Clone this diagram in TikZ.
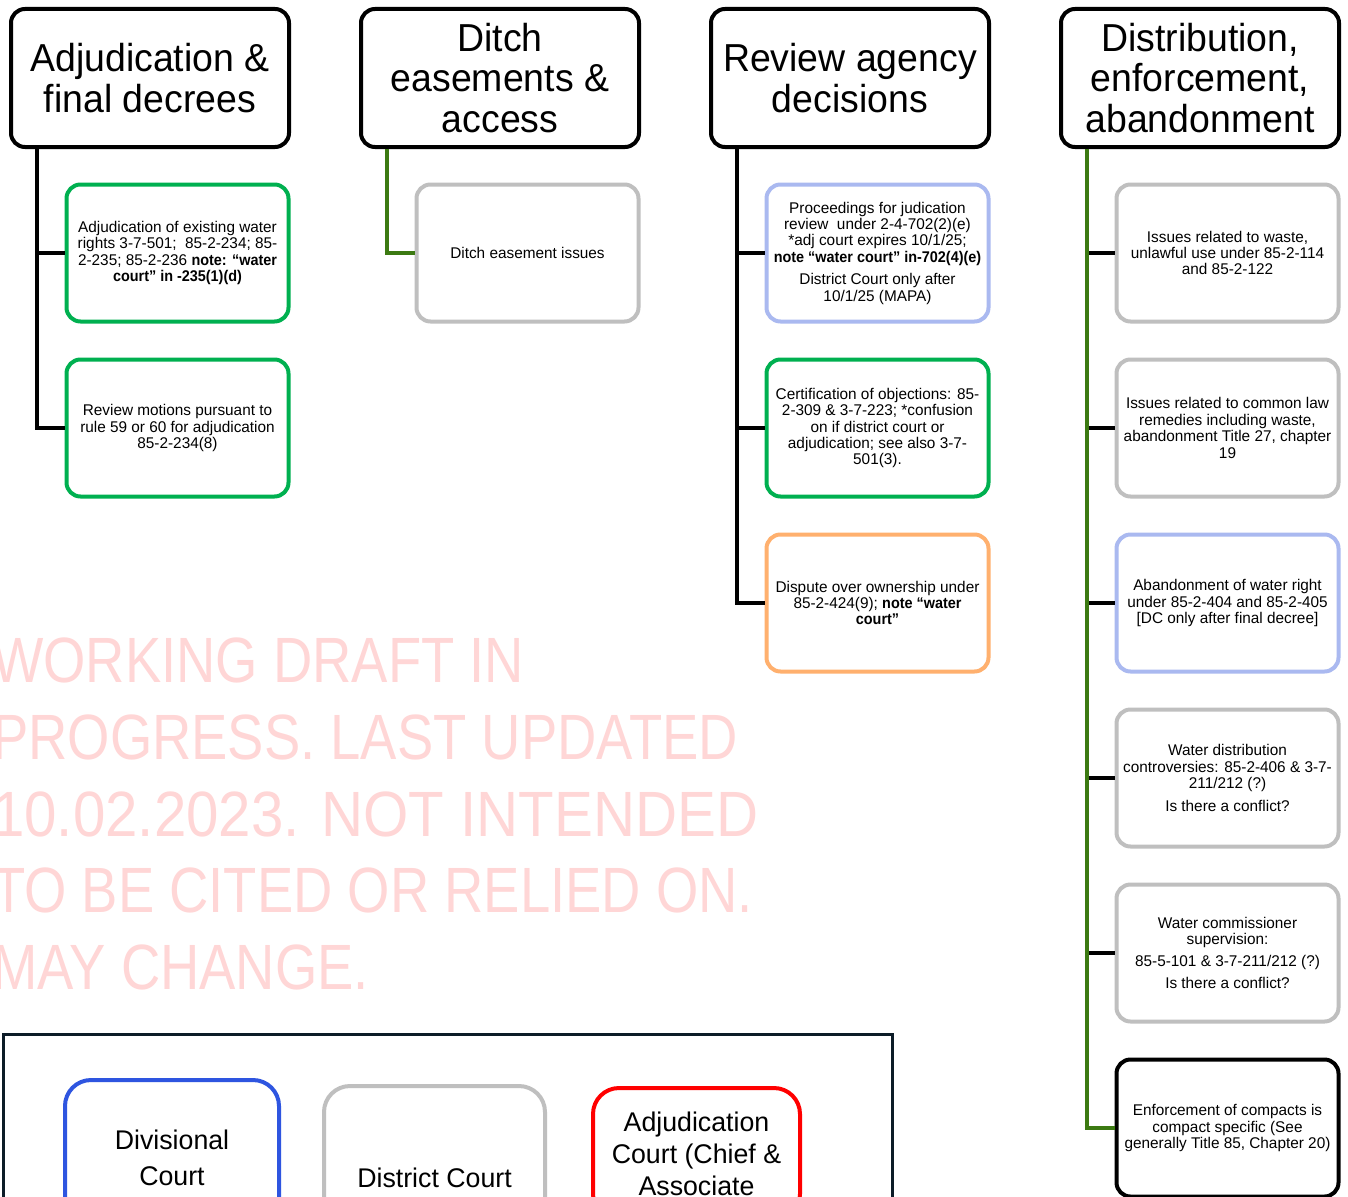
\documentclass[tikz,border=0pt]{standalone}
\usepackage{fontspec}
\setmainfont{Liberation Sans}[FakeStretch=0.99]
\newfontfamily\hdrfont{Liberation Sans}[FakeStretch=0.96]
\newfontfamily\nbold{Liberation Sans}[FakeStretch=0.93]
\newfontfamily\wmfont{Liberation Sans}[FakeStretch=0.85]
\newfontfamily\wmfontb{Liberation Sans}[FakeStretch=0.91]
\newcommand\nbx[1]{{\nbold\bfseries #1}}
\definecolor{cgreen}{HTML}{00B050}
\definecolor{cgray}{HTML}{BFBFBF}
\definecolor{cblue}{HTML}{AAB9F0}
\definecolor{corange}{HTML}{FFB06E}
\definecolor{lgreen}{HTML}{3C7A12}
\definecolor{navy}{HTML}{0C1C28}
\definecolor{lblue}{HTML}{2E55E0}
\definecolor{wmpink}{HTML}{FFD6D6}
\tikzset{
  hdr/.style={draw=black, line width=4pt, rounded corners=14pt, minimum width=278pt, minimum height=138pt, align=center, fill=white, font=\hdrfont\fontsize{39}{40.5}\selectfont, inner sep=2pt},
  child/.style={draw=#1, line width=4pt, rounded corners=14pt, minimum width=222pt, minimum height=137pt, align=center, fill=white, font=\fontsize{15.5}{16.4}\selectfont, inner sep=2pt},
  conn/.style={line width=4pt},
  lgbox/.style={draw=#1, line width=4pt, rounded corners=26pt, align=center, fill=white, inner sep=2pt},
  wm/.style={anchor=base west, inner sep=0pt, text=wmpink, font=\wmfont\fontsize{64}{77}\selectfont},
}
\begin{document}
\begin{tikzpicture}[x=1pt, y=-1pt]
\useasboundingbox (0,0) rectangle (1348,1196);
\clip (0,0) rectangle (1348,1196);
\fill[white] (0,0) rectangle (1348,1196);

% watermark
\node[wm] (wm1) at (-8,682) {WORKING DRAFT IN};
\node[wm] (wm2) at (-8,759) {PROGRESS. LAST UPDATED};
\node[wm, font=\wmfontb\fontsize{64}{77}\selectfont] (wm3) at (-8,836) {10.02.2023. NOT INTENDED};
\node[wm] (wm4) at (-8,912) {TO BE CITED OR RELIED ON.};
\node[wm] (wm5) at (-8,989) {MAY CHANGE.};

% headers
\node[hdr] (h1) at (150,78) {Adjudication \&\\final decrees};
\node[hdr] (h2) at (500,78) {Ditch\\easements \&\\access};
\node[hdr] (h3) at (850,78) {Review agency\\decisions};
\node[hdr] (h4) at (1200,78) {Distribution,\\enforcement,\\abandonment};

% column 1
\node[child=cgreen] (c11) at (177.5,253) {Adjudication of existing water\\rights 3-7-501;\ \ 85-2-234; 85-\\2-235; 85-2-236 \nbx{note: “water}\\\nbx{court” in -235(1)(d)}};
\node[child=cgreen] (c12) at (177.5,428) {Review motions pursuant to\\rule 59 or 60 for adjudication\\85-2-234(8)};

% column 2
\node[child=cgray] (c21) at (527.5,253) {Ditch easement issues};

% column 3
\node[child=cblue] (c31) at (877.5,253) {Proceedings for judication\\review\ \ under 2-4-702(2)(e)\\*adj court expires 10/1/25;\\\nbx{note “water court” in-702(4)(e)}\\[6pt]District Court only after\\10/1/25 (MAPA)};
\node[child=cgreen] (c32) at (877.5,428) {Certification of objections: 85-\\2-309 \& 3-7-223; *confusion\\on if district court or\\adjudication; see also 3-7-\\501(3).};
\node[child=corange] (c33) at (877.5,603) {Dispute over ownership under\\85-2-424(9); \nbx{note “water}\\\nbx{court”}};

% column 4
\node[child=cgray] (c41) at (1227.5,253) {Issues related to waste,\\unlawful use under 85-2-114\\and 85-2-122};
\node[child=cgray] (c42) at (1227.5,428) {Issues related to common law\\remedies including waste,\\abandonment Title 27, chapter\\19};
\node[child=cblue] (c43) at (1227.5,603) {Abandonment of water right\\under 85-2-404 and 85-2-405\\{[DC only after final decree]}};
\node[child=cgray] (c44) at (1227.5,778) {Water distribution\\controversies: 85-2-406 \& 3-7-\\211/212 (?)\\[6pt]Is there a conflict?};
\node[child=cgray] (c45) at (1227.5,953) {Water commissioner\\supervision:\\[5pt]85-5-101 \& 3-7-211/212 (?)\\[6pt]Is there a conflict?};
\node[child=black] (c46) at (1227.5,1128) {Enforcement of compacts is\\compact specific (See\\generally Title 85, Chapter 20)};

% connectors
\coordinate (v1) at ([xshift=28pt]h1.south west);
\coordinate (v2) at ([xshift=28pt]h2.south west);
\coordinate (v3) at ([xshift=28pt]h3.south west);
\coordinate (v4) at ([xshift=28pt]h4.south west);
\draw[conn] (v1) |- (c11.west);
\draw[conn] (v1) |- (c12.west);
\draw[conn, lgreen] (v2) |- (c21.west);
\draw[conn] (v3) |- (c31.west);
\draw[conn] (v3) |- (c32.west);
\draw[conn] (v3) |- (c33.west);
\draw[conn, lgreen] (v4) |- (c46.west);
\foreach \n in {c41,c42,c43,c44,c45}{
  \draw[conn] ([xshift=2pt]\n.west -| v4) -- (\n.west);
}

% legend
\node[draw=navy, line width=3pt, minimum width=889pt, minimum height=300pt, anchor=north west, inner sep=0pt] (legend) at (1.5,1032.5) {};
\node[lgbox=lblue, minimum width=214pt, minimum height=156pt, font=\fontsize{27}{36}\selectfont] (lg1) at (172,1158) {Divisional\\Court};
\node[lgbox=cgray, minimum width=221pt, minimum height=184pt, font=\fontsize{27}{36}\selectfont] (lg2) at (434.5,1178) {District Court};
\node[lgbox=red, minimum width=207pt, minimum height=132pt, font=\fontsize{27}{32}\selectfont] (lg3) at (696.5,1154) {Adjudication\\Court (Chief \&\\Associate};
\end{tikzpicture}
\end{document}
